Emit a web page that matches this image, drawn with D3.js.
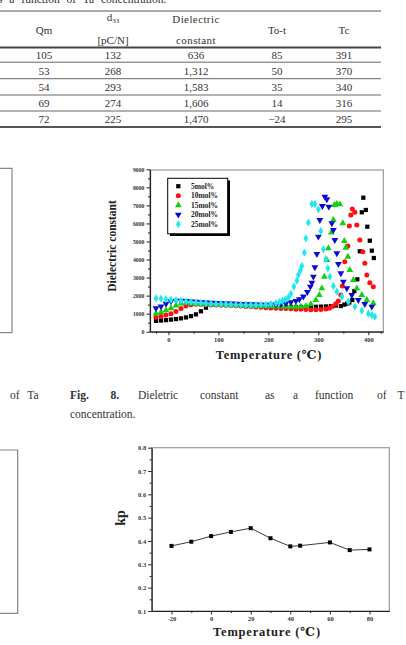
<!DOCTYPE html>
<html><head><meta charset="utf-8">
<script src="https://cdn.jsdelivr.net/npm/d3@7"></script>
<style>
body{margin:0;background:#fff;}
svg{display:block;}
</style></head>
<body>
<svg id="c" width="406" height="645"></svg>
<script>
// ---------- Table data ----------
const tableQm = [105, 53, 54, 69, 72];
const tableD33 = [132, 268, 293, 274, 225];
const tableDielectric = [636, 1312, 1583, 1606, 1470];
const tableTot = [85, 50, 35, 14, -24];
const tableTc = [391, 370, 340, 316, 295];

// ---------- Fig. 8 : dielectric constant vs temperature ----------
const seriesNames = ["5mol%", "10mol%", "15mol%", "20mol%", "25mol%"];
const temp5 = [-25,-15,-5,5,15,25,35,45,55,65,75,85,95,105,115,125,135,145,155,165,175,185,195,205,215,225,235,245,255,265,275,285,295,305,315,325,335,345,352,358,362,368,372,378,383,387,390,395,398,403,407,411];
const eps5  = [600,620,640,670,700,740,790,860,960,1130,1330,1480,1530,1520,1500,1490,1480,1470,1460,1450,1440,1430,1420,1410,1400,1390,1380,1375,1370,1370,1370,1375,1380,1390,1400,1420,1450,1420,1500,1560,1620,1757,2255,2904,4456,6617,7426,6745,5819,5043,4489,4084];
const temp10 = [-25,-15,-5,5,15,25,35,45,55,65,75,85,95,105,115,125,135,145,155,165,175,185,195,205,215,225,235,245,255,265,275,285,295,305,315,322,328,335,340,345,348,353,359,362,365,368,373,377,383,389,393,397,403,410];
const eps10  = [800,850,920,1000,1120,1280,1420,1500,1520,1510,1500,1490,1480,1470,1460,1450,1440,1420,1400,1390,1370,1350,1330,1310,1300,1290,1280,1270,1250,1240,1230,1220,1220,1230,1260,1300,1400,1550,1700,2034,2533,3879,4750,5858,6468,6800,6617,5913,5082,4434,3790,3142,2716,2494];
const temp15 = [-25,-15,-5,5,15,25,35,45,55,65,75,85,95,105,115,125,135,145,155,165,175,185,195,205,215,225,235,245,255,265,275,285,295,302,307,312,317,320,326,330,332,337,343,349,352,355,359,363,370,377,387,397,410];
const eps15  = [1000,1080,1180,1300,1450,1560,1600,1580,1560,1550,1540,1530,1520,1510,1500,1490,1480,1470,1460,1450,1440,1430,1420,1410,1400,1390,1380,1380,1380,1390,1420,1520,1750,2034,2405,3048,3974,4620,5500,6200,7022,7077,7060,6008,5027,4655,4157,3419,2865,2405,2034,1757,1574];
const temp20 = [-25,-15,-5,5,15,25,35,45,55,65,75,85,95,105,115,125,135,145,155,165,175,185,195,205,215,225,235,245,255,262,270,278,284,287,290,293,297,300,303,308,313,317,321,327,330,333,337,340,345,350,357,367,380,393,407];
const eps20  = [1300,1400,1550,1680,1720,1720,1700,1680,1660,1640,1620,1600,1590,1580,1570,1560,1550,1540,1530,1520,1510,1500,1500,1500,1510,1530,1570,1630,1710,1800,1950,2200,2500,2716,3048,3569,4306,5265,6190,6966,7482,7337,6927,6008,5636,5082,4345,3752,3236,2771,2405,2034,1757,1535,1386];
const temp25 = [-25,-15,-5,5,15,25,35,45,55,65,75,85,95,105,115,125,135,145,155,165,175,185,195,205,215,222,228,234,240,245,251,257,260,264,267,272,275,280,287,293,300,305,310,315,319,323,330,337,347,360,373,387,400,407,413];
const eps25  = [1850,1830,1800,1770,1740,1710,1680,1650,1620,1590,1570,1550,1540,1530,1520,1510,1500,1490,1480,1480,1480,1490,1500,1530,1580,1640,1700,1780,1900,2100,2500,2826,3142,3400,3641,4378,5176,6041,7077,7077,6783,5580,4566,4012,3514,3048,2533,2217,1940,1663,1386,1164,1000,925,831];
const seriesTemps = [temp5, temp10, temp15, temp20, temp25];
const seriesEps = [eps5, eps10, eps15, eps20, eps25];
const seriesColors = ["#000000", "#ff1010", "#10d010", "#0a0ad0", "#20e8f0"];
const epsTicks = [0,1000,2000,3000,4000,5000,6000,7000,8000,9000];
const tempTicks8 = [0,100,200,300,400];

// ---------- Fig. 9 : kp vs temperature ----------
const kpTemps = [-20,-10,0,10,20,30,40,45,60,70,80];
const kpValues = [0.379,0.397,0.421,0.439,0.455,0.412,0.377,0.380,0.394,0.361,0.364];
const kpTicks = [0.1,0.2,0.3,0.4,0.5,0.6,0.7,0.8];
const tempTicks9 = [-20,0,20,40,60,80];

const svg = d3.select("#c");
const serif = "'Liberation Serif','DejaVu Serif',serif";
const txt = "#333";

// ---------- Top caption fragment ----------
svg.append("text").attr("x", -2).attr("y", 3).attr("font-family", serif).attr("font-size", 11.5)
  .attr("fill", txt).attr("word-spacing", 4).text("s a function of Ta concentration.");

// ---------- Table ----------
const colX = [44, 113, 196, 277, 344];
const rowY = [54.5, 70.8, 87, 103.2, 119.4];
const tg = svg.append("g").attr("font-family", serif).attr("font-size", 11).attr("fill", txt).attr("text-anchor", "middle");
tg.append("line").attr("x1", 0).attr("x2", 381).attr("y1", 11).attr("y2", 11).attr("stroke", "#555").attr("stroke-width", 1);
tg.append("line").attr("x1", 0).attr("x2", 381).attr("y1", 47.5).attr("y2", 47.5).attr("stroke", "#444").attr("stroke-width", 2);
[62.2, 78.7, 95, 111].forEach(y => tg.append("line").attr("x1", 0).attr("x2", 381).attr("y1", y).attr("y2", y).attr("stroke", "#555").attr("stroke-width", 0.9));
tg.append("line").attr("x1", 0).attr("x2", 381).attr("y1", 127).attr("y2", 127).attr("stroke", "#555").attr("stroke-width", 2);
tg.append("text").attr("x", colX[0]).attr("y", 34).text("Qm");
const d33t = tg.append("text").attr("x", colX[1]).attr("y", 21);
d33t.append("tspan").text("d");
d33t.append("tspan").attr("font-size", 7).attr("dy", 2).text("33");
tg.append("text").attr("x", colX[1]).attr("y", 44).text("[pC/N]");
tg.append("text").attr("x", colX[2]).attr("y", 23).attr("letter-spacing", 0.4).text("Dielectric");
tg.append("text").attr("x", colX[2]).attr("y", 44).attr("letter-spacing", 0.4).text("constant");
tg.append("text").attr("x", colX[3]).attr("y", 34).text("To-t");
tg.append("text").attr("x", colX[4]).attr("y", 34).text("Tc");
const fmt = d3.format(",");
const cols = [tableQm.map(String), tableD33.map(String), tableDielectric.map(v => v >= 1000 ? fmt(v) : String(v)),
  tableTot.map(v => v < 0 ? "\u2212" + Math.abs(v) : String(v)), tableTc.map(String)];
cols.forEach((col, ci) => col.forEach((v, ri) => {
  tg.append("text").attr("x", colX[ci]).attr("y", rowY[ri] + 4).text(v);
}));

// ---------- Left partial frames ----------
svg.append("path").attr("d", "M0,168.3H12V332.7H0").attr("fill", "none").attr("stroke", "#888").attr("stroke-width", 1.2);
svg.append("path").attr("d", "M0,450H17.7V613.3H0").attr("fill", "none").attr("stroke", "#888").attr("stroke-width", 1.2);

// ---------- Caption of Fig. 8 ----------
const cap = svg.append("g").attr("font-family", serif).attr("font-size", 11.5).attr("fill", txt);
cap.append("text").attr("x", 10).attr("y", 398.5).attr("word-spacing", 5).text("of  Ta");
const capWords = [["Fig.", 70, true], ["8.", 110.5, true], ["Dieletric", 138, false], ["constant", 200, false], ["as", 265, false], ["a", 293, false], ["function", 315, false], ["of", 377, false], ["T", 397.5, false]];
capWords.forEach(([w, x, b]) => cap.append("text").attr("x", x).attr("y", 398.5).attr("font-weight", b ? "bold" : "normal").text(w));
cap.append("text").attr("x", 70).attr("y", 417.5).text("concentration.");

// ---------- helper for axes ----------
function styleAxis(g, fs) {
  g.selectAll("path.domain").attr("stroke", "#222").attr("stroke-width", 1.2);
  g.selectAll(".tick line").attr("stroke", "#222").attr("stroke-width", 1);
  g.selectAll(".tick text").attr("font-family", serif).attr("font-weight", "bold").attr("font-size", fs).attr("fill", "#333");
}

// ---------- Fig. 8 chart ----------
{
  const x = d3.scaleLinear([-37, 430], [150, 383.3]);
  const y = d3.scaleLinear([0, 9000], [331.7, 169.3]);
  const g = svg.append("g");
  g.append("rect").attr("x", 150).attr("y", 170).attr("width", 383.3 - 150).attr("height", 331.7 - 170)
    .attr("fill", "none").attr("stroke", "#999").attr("stroke-width", 1.2);
  g.append("g").attr("transform", "translate(0,331.7)")
    .call(d3.axisBottom(x).tickValues([-25,50,150,250,350,425]).tickSize(2).tickFormat(""))
    .call(a => a.select(".domain").remove()).selectAll("line").attr("stroke", "#222");
  g.append("g").attr("transform", "translate(150,0)")
    .call(d3.axisLeft(y).tickValues(d3.range(500, 9000, 1000)).tickSize(2).tickFormat(""))
    .call(a => a.select(".domain").remove()).selectAll("line").attr("stroke", "#222");
  const xa = g.append("g").attr("transform", "translate(0,331.7)")
    .call(d3.axisBottom(x).tickValues(tempTicks8).tickSize(3.5).tickPadding(2).tickSizeOuter(0).tickFormat(d3.format("d")));
  styleAxis(xa, 6.5);
  const ya = g.append("g").attr("transform", "translate(150,0)")
    .call(d3.axisLeft(y).tickValues(epsTicks).tickSize(3.5).tickPadding(2).tickSizeOuter(0).tickFormat(d3.format("d")));
  styleAxis(ya, 5.8);
  const shapes = [d3.symbolSquare, d3.symbolCircle, d3.symbolTriangle, d3.symbolTriangle, d3.symbolDiamond];
  const sizes = [18, 20, 20, 20, 20];
  seriesTemps.forEach((ts, si) => {
    const pts = ts.map((t, i) => [t, seriesEps[si][i]]);
    g.append("g").selectAll("path").data(pts).join("path")
      .attr("d", d3.symbol(shapes[si], sizes[si]))
      .attr("transform", d => `translate(${x(d[0])},${y(d[1])})${si === 3 ? " rotate(180)" : ""}`)
      .attr("fill", seriesColors[si]);
  });
  const lg = g.append("g");
  lg.append("rect").attr("x", 170).attr("y", 180.5).attr("width", 60).attr("height", 55.5).attr("fill", "#000");
  lg.append("rect").attr("x", 167.7).attr("y", 178.3).attr("width", 60).attr("height", 55.5).attr("fill", "#fff").attr("stroke", "#000").attr("stroke-width", 1);
  seriesNames.forEach((n, i) => {
    const yy = 186.2 + i * 9.5;
    lg.append("path").attr("d", d3.symbol(shapes[i], sizes[i]))
      .attr("transform", `translate(178.3,${yy})${i === 3 ? " rotate(180)" : ""}`).attr("fill", seriesColors[i]);
    lg.append("text").attr("x", 191).attr("y", yy + 2.5).attr("font-family", serif).attr("font-weight", "bold")
      .attr("font-size", 7.5).attr("fill", "#222").text(n);
  });
  svg.append("text").attr("transform", "translate(116,246) rotate(-90)").attr("text-anchor", "middle")
    .attr("font-family", serif).attr("font-weight", "bold").attr("font-size", 11.5).attr("fill", "#222").text("Dielectric constant");
  svg.append("text").attr("x", 269).attr("y", 359).attr("text-anchor", "middle")
    .attr("font-family", serif).attr("font-weight", "bold").attr("font-size", 12.5).attr("fill", "#222")
    .attr("letter-spacing", 0.7).text("Temperature (\u2103)");
}

// ---------- Fig. 9 chart ----------
{
  const x = d3.scaleLinear([-30, 90], [151.7, 389.3]);
  const y = d3.scaleLinear([0.1, 0.8], [611, 447.7]);
  const g = svg.append("g");
  g.append("rect").attr("x", 151.7).attr("y", 447.7).attr("width", 389.3 - 151.7).attr("height", 611 - 447.7)
    .attr("fill", "none").attr("stroke", "#999").attr("stroke-width", 1.2);
  g.append("g").attr("transform", "translate(0,611)")
    .call(d3.axisBottom(x).tickValues([-10,10,30,50,70]).tickSize(2).tickFormat(""))
    .call(a => a.select(".domain").remove()).selectAll("line").attr("stroke", "#222");
  g.append("g").attr("transform", "translate(151.7,0)")
    .call(d3.axisLeft(y).tickValues([0.15,0.25,0.35,0.45,0.55,0.65,0.75]).tickSize(2).tickFormat(""))
    .call(a => a.select(".domain").remove()).selectAll("line").attr("stroke", "#222");
  const xa = g.append("g").attr("transform", "translate(0,611)")
    .call(d3.axisBottom(x).tickValues(tempTicks9).tickSize(3.5).tickPadding(2).tickSizeOuter(0).tickFormat(d => String(d)));
  styleAxis(xa, 6.5);
  const ya = g.append("g").attr("transform", "translate(151.7,0)")
    .call(d3.axisLeft(y).tickValues(kpTicks).tickSize(3.5).tickPadding(2).tickSizeOuter(0).tickFormat(d3.format(".1f")));
  styleAxis(ya, 6.5);
  const pts = kpTemps.map((t, i) => [t, kpValues[i]]);
  g.append("path").datum(pts).attr("d", d3.line(d => x(d[0]), d => y(d[1])))
    .attr("fill", "none").attr("stroke", "#222").attr("stroke-width", 0.9);
  g.append("g").selectAll("rect").data(pts).join("rect")
    .attr("x", d => x(d[0]) - 2).attr("y", d => y(d[1]) - 2).attr("width", 4).attr("height", 4).attr("fill", "#000");
  svg.append("text").attr("transform", "translate(125,518) rotate(-90)").attr("text-anchor", "middle")
    .attr("font-family", serif).attr("font-weight", "bold").attr("font-size", 14).attr("fill", "#222").text("kp");
  svg.append("text").attr("x", 267).attr("y", 636).attr("text-anchor", "middle")
    .attr("font-family", serif).attr("font-weight", "bold").attr("font-size", 12.5).attr("fill", "#222")
    .attr("letter-spacing", 0.8).text("Temperature (\u2103)");
}
</script>
</body></html>
